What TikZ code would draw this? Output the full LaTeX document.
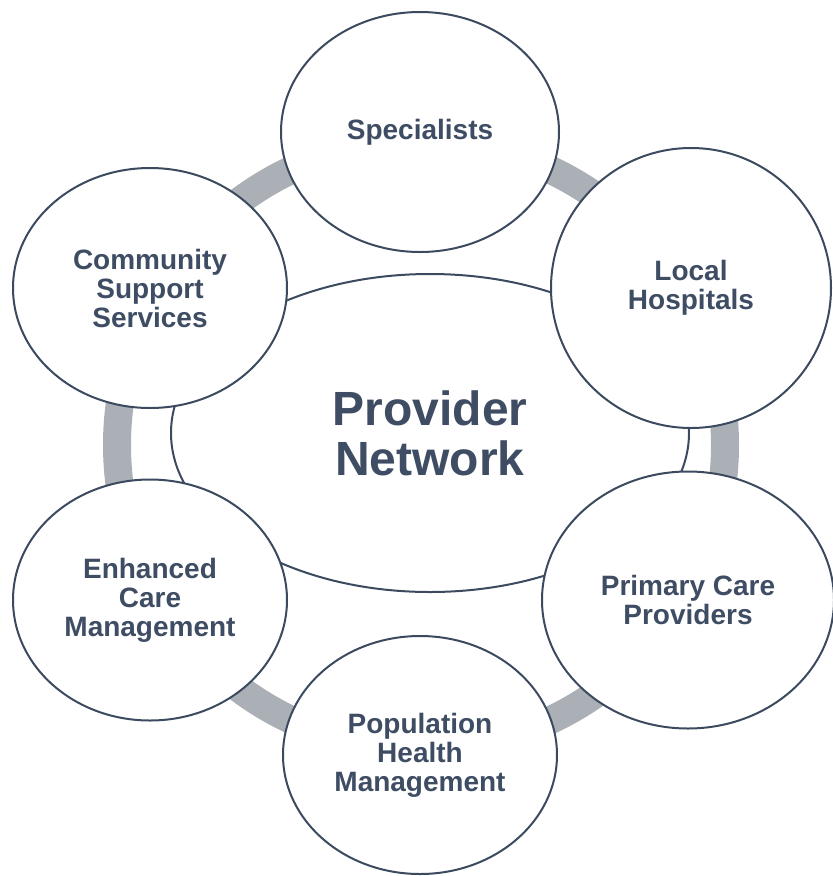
\documentclass[tikz,border=0pt]{standalone}
\usepackage{fontspec}
\setmainfont{Liberation Sans}
\usetikzlibrary{shapes.geometric}
\definecolor{edgec}{HTML}{3B4A5F}
\definecolor{ringc}{HTML}{ABAFB6}
\definecolor{textc}{HTML}{3F4D64}
\tikzset{
  member/.style={ellipse, draw=edgec, line width=2pt, fill=white, inner sep=0pt,
    align=center, text=textc, font=\bfseries\fontsize{28}{29}\selectfont},
  hub/.style={ellipse, draw=edgec, line width=2pt, fill=white, inner sep=0pt,
    align=center, text=textc, font=\bfseries\fontsize{48}{50}\selectfont},
}
\begin{document}
\begin{tikzpicture}[x=1pt,y=-1pt]
\useasboundingbox (0,0) rectangle (833,876);
% ring
\draw[ringc, line width=28pt] (421,445) circle (304);
% center
\node[hub, minimum width=518pt, minimum height=318pt] (net) at (430,433) {Provider\\Network};
% members
\node[member, minimum width=278pt, minimum height=240pt] (spec) at (420,132) {Specialists};
\node[member, minimum width=280pt, minimum height=280pt] (hosp) at (691,288) {Local\\Hospitals};
\node[member, minimum width=274pt, minimum height=240pt] (comm) at (150,288) {Community\\Support\\Services};
\node[member, minimum width=274pt, minimum height=241pt] (ecm) at (150,600) {Enhanced\\Care\\Management};
\node[member, minimum width=292pt, minimum height=257pt] (pcp) at (688,600) {Primary Care\\Providers};
\node[member, minimum width=274pt, minimum height=238pt] (phm) at (420,755) {Population\\Health\\Management};
\end{tikzpicture}
\end{document}
